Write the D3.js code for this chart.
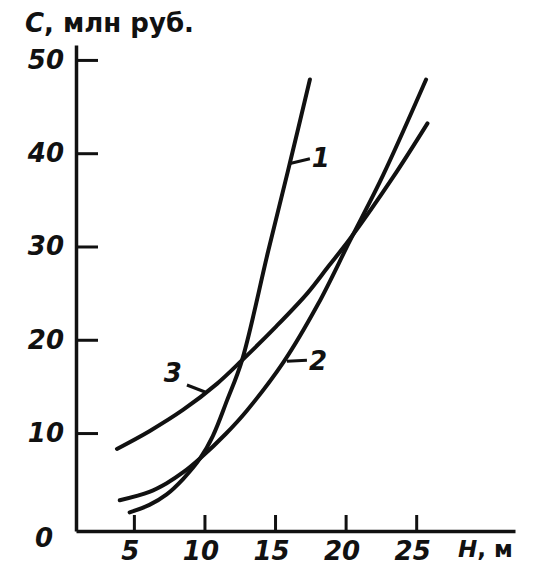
<!DOCTYPE html>
<html>
<head>
<meta charset="utf-8">
<script src="https://cdn.jsdelivr.net/npm/d3@7"></script>
<style>
  body { margin: 0; background: #fff; }
  text { font-family: "DejaVu Sans", sans-serif; font-weight: bold; fill: #111; }
</style>
</head>
<body>
<div id="chart"></div>
<script>
// H, м  /  C, млн руб.
var curve1H = [4.7, 6.1, 7.3, 8.5, 9.7, 10.6, 11.6, 12.66, 14.5, 16.06, 17.47];
var curve1C = [1.5, 2.3, 3.4, 5.1, 7.3, 9.7, 13.5, 17.8, 29.4, 39.0, 47.9];

var curve2H = [4.0, 6.1, 7.3, 8.5, 9.7, 11.5, 13.0, 15.6, 18.04, 20.3, 22.64, 25.7];
var curve2C = [2.8, 3.7, 4.6, 5.8, 7.3, 9.9, 12.4, 17.6, 23.8, 30.6, 37.6, 47.9];

var curve3H = [3.8, 6.1, 8.5, 10.9, 12.66, 15.0, 17.3, 18.8, 20.3, 23.35, 25.8];
var curve3C = [8.3, 10.2, 12.5, 15.3, 17.8, 21.3, 25.0, 27.9, 30.8, 37.4, 43.2];

var xTicks = [5, 10, 15, 20, 25];
var yTicks = [10, 20, 30, 40, 50];

// curve labels: leader start on the curve, leader end, text anchor
var labelNames = ["1", "2", "3"];
var leaderFrom = [[16.06, 38.9], [15.84, 17.7], [10.04, 14.4]];
var leaderTo   = [[17.47, 39.4], [17.26, 17.8], [8.76, 15.15]];
var labelAt    = [[17.6, 38.5], [17.4, 16.75], [8.4, 15.5]];

var width = 537, height = 565;

var svg = d3.select("#chart").append("svg")
    .attr("width", width)
    .attr("height", height);

var x = d3.scaleLinear().domain([0.9, 32]).range([76, 515]);
var y = d3.scaleLinear().domain([-0.5, 51.6]).range([531, 45]);

// y axis, ticks pointing inward
var yAxis = svg.append("g")
    .attr("transform", "translate(" + x(0.9) + ",0)")
    .call(d3.axisLeft(y).tickValues(yTicks).tickSizeInner(-22).tickSizeOuter(0).tickPadding(12));
yAxis.select(".domain").attr("stroke", "#111").attr("stroke-width", 3.5);
yAxis.selectAll(".tick line").attr("stroke", "#111").attr("stroke-width", 3);
yAxis.selectAll(".tick text")
    .attr("font-size", 26).attr("font-style", "italic")
    .attr("font-family", "DejaVu Sans").attr("font-weight", "bold").attr("fill", "#111");

// x axis, ticks pointing up
var xAxis = svg.append("g")
    .attr("transform", "translate(0," + y(-0.5) + ")")
    .call(d3.axisBottom(x).tickValues(xTicks).tickSizeInner(-16).tickSizeOuter(0).tickPadding(11));
xAxis.select(".domain").attr("stroke", "#111").attr("stroke-width", 3.5);
xAxis.selectAll(".tick line").attr("stroke", "#111").attr("stroke-width", 3);
xAxis.selectAll(".tick text")
    .attr("font-size", 26).attr("font-style", "italic").attr("dx", -4)
    .attr("font-family", "DejaVu Sans").attr("font-weight", "bold").attr("fill", "#111");

// origin label
svg.append("text")
    .attr("x", x(0.9) - 23)
    .attr("y", y(-0.5) + 16)
    .attr("text-anchor", "end")
    .attr("font-size", 26)
    .attr("font-style", "italic")
    .text("0");

// axis titles
var yTitle = svg.append("text")
    .attr("x", 25)
    .attr("y", 32)
    .attr("font-size", 26);
yTitle.append("tspan").attr("font-style", "italic").text("С");
yTitle.append("tspan").text(", млн руб.");

var xTitle = svg.append("text")
    .attr("x", 458)
    .attr("y", 557)
    .attr("font-size", 23);
xTitle.append("tspan").attr("font-style", "italic").text("Н");
xTitle.append("tspan").text(", м");

// curves
var line = d3.line()
    .x(function(d) { return x(d[0]); })
    .y(function(d) { return y(d[1]); })
    .curve(d3.curveCatmullRom.alpha(0.5));

var curves = [
  d3.zip(curve1H, curve1C),
  d3.zip(curve2H, curve2C),
  d3.zip(curve3H, curve3C)
];

svg.selectAll(".curve")
    .data(curves)
    .enter().append("path")
    .attr("class", "curve")
    .attr("fill", "none")
    .attr("stroke", "#111")
    .attr("stroke-width", 4)
    .attr("stroke-linecap", "round")
    .attr("d", line);

// leaders and numbers
for (var i = 0; i < labelNames.length; i++) {
  svg.append("line")
      .attr("x1", x(leaderFrom[i][0])).attr("y1", y(leaderFrom[i][1]))
      .attr("x2", x(leaderTo[i][0])).attr("y2", y(leaderTo[i][1]))
      .attr("stroke", "#111")
      .attr("stroke-width", 3);
  svg.append("text")
      .attr("x", x(labelAt[i][0]))
      .attr("y", y(labelAt[i][1]))
      .attr("text-anchor", i == 2 ? "end" : "start")
      .attr("font-size", 26)
      .attr("font-style", "italic")
      .text(labelNames[i]);
}
</script>
</body>
</html>
